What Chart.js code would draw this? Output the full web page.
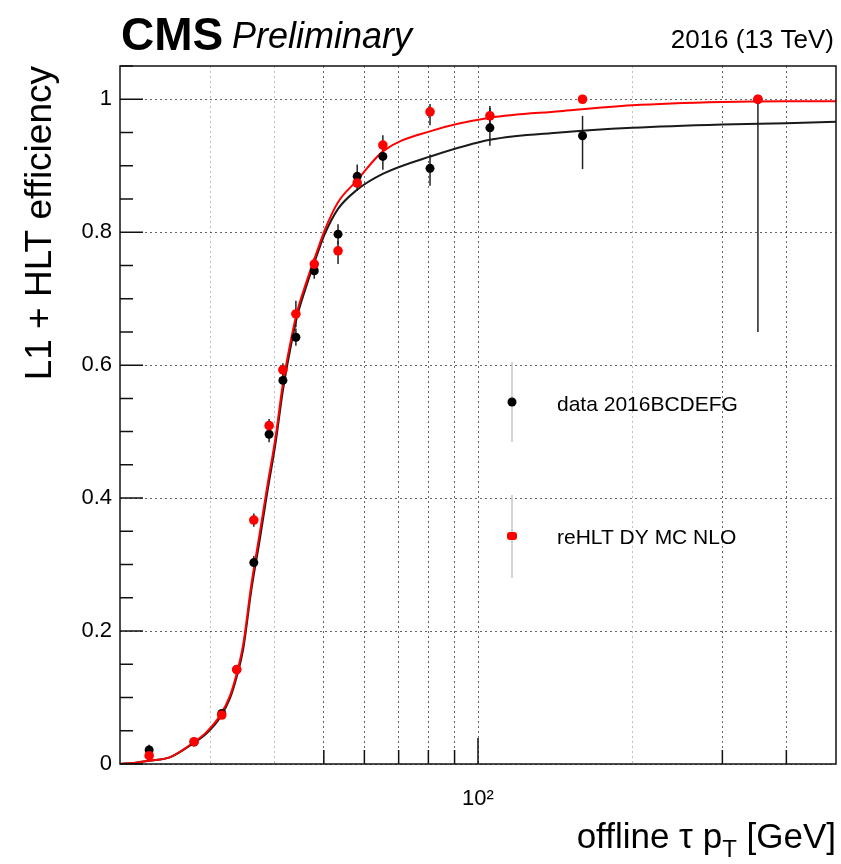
<!DOCTYPE html>
<html>
<head>
<meta charset="utf-8">
<script src="https://cdn.jsdelivr.net/npm/chart.js@4.4.0/dist/chart.umd.min.js"></script>
<style>
  html, body { margin: 0; padding: 0; background: #fff; }
</style>
</head>
<body>
<canvas id="effChart" width="841" height="864"></canvas>
<script>
// ---------- data ---------- //

// bin centres, offline tau pT [GeV]
var binCenters = [22.8, 27.9, 31.6, 33.8, 36.5, 39.1, 41.6, 44.1, 47.9, 53.3, 58.1, 65.2, 80.6, 105.5, 160, 352];

// data 2016BCDEFG
var dataEff     = [0.021, 0.033, 0.076, 0.142, 0.303, 0.496, 0.577, 0.642, 0.742, 0.797, 0.884, 0.914, 0.896, 0.957, 0.945, 1.0];
var dataErrUp   = [0.008, 0.004, 0.005, 0.006, 0.010, 0.012, 0.012, 0.013, 0.012, 0.015, 0.018, 0.018, 0.021, 0.030, 0.030, 0.0];
var dataErrDown = [0.008, 0.004, 0.005, 0.006, 0.010, 0.012, 0.012, 0.013, 0.012, 0.015, 0.018, 0.020, 0.026, 0.027, 0.050, 0.35];

// reHLT DY MC NLO
var mcEff     = [0.0125, 0.0335, 0.0737, 0.142, 0.367, 0.509, 0.593, 0.677, 0.752, 0.772, 0.874, 0.931, 0.981, 0.975, 1.0, 1.0];
var mcErrUp   = [0.006, 0.003, 0.004, 0.005, 0.010, 0.010, 0.010, 0.020, 0.010, 0.015, 0.012, 0.015, 0.012, 0.015, 0.0, 0.0];
var mcErrDown = [0.006, 0.003, 0.004, 0.005, 0.010, 0.010, 0.010, 0.020, 0.010, 0.020, 0.012, 0.012, 0.020, 0.015, 0.005, 0.0];

// fitted turn-on curves
var fitX      = [20, 21.5, 22.8, 25, 27.9, 29.5, 31.3, 32.8, 33.9, 34.8, 36.1, 37.5, 38.8, 40.2, 41.6, 42.9, 44.3, 46, 48.7, 50.2, 53.3, 57.9, 65.3, 80.8, 105.5, 144.6, 200, 300, 400, 500];
var mcFitY    = [0.0, 0.002, 0.005, 0.01, 0.033, 0.048, 0.072, 0.103, 0.14, 0.18, 0.27, 0.348, 0.419, 0.489, 0.572, 0.629, 0.679, 0.72, 0.775, 0.803, 0.845, 0.877, 0.922, 0.952, 0.972, 0.982, 0.991, 0.996, 0.997, 0.997];
var dataFitY  = [0.0, 0.002, 0.005, 0.01, 0.032, 0.046, 0.069, 0.099, 0.135, 0.173, 0.262, 0.338, 0.41, 0.48, 0.562, 0.62, 0.672, 0.714, 0.77, 0.797, 0.835, 0.863, 0.888, 0.914, 0.939, 0.95, 0.957, 0.962, 0.964, 0.966];

// axis ticks
var xTickValues = [30, 40, 50, 60, 70, 80, 90, 100, 200, 300, 400];
var xFaintTicks = [30, 40, 200];   // grid only, no tick mark
var xMajorTick = 100;

var FONT = '"Liberation Sans", Arial, Helvetica, sans-serif';

// ------------------ //
//  HELPER FUNCTIONS  //
// ------------------ //

// zip two arrays into {x, y} points, skipping nulls
function toPoints(xs, ys) {
  var pts = [];
  for (var i = 0; i < xs.length; i++) {
    if (ys[i] !== null) pts.push({ x: xs[i], y: ys[i] });
  }
  return pts;
}

function isMultiple(v, step) {
  var k = v / step;
  return Math.abs(k - Math.round(k)) < 1e-6;
}

// error bars, inner ticks, frame, header, legend and x title (ROOT style)
var rootStyle = {
  id: 'rootStyle',
  beforeDatasetsDraw: function (chart) {
    var ctx = chart.ctx, xs = chart.scales.x, ys = chart.scales.y;
    var sets = [
      { eff: dataEff, up: dataErrUp, dn: dataErrDown },
      { eff: mcEff, up: mcErrUp, dn: mcErrDown }
    ];
    ctx.save();
    ctx.strokeStyle = '#222';
    ctx.lineWidth = 1.5;
    sets.forEach(function (s) {
      for (var i = 0; i < binCenters.length; i++) {
        if (s.eff[i] === null) continue;
        var px = xs.getPixelForValue(binCenters[i]);
        ctx.beginPath();
        ctx.moveTo(px, ys.getPixelForValue(s.eff[i] + s.up[i]));
        ctx.lineTo(px, ys.getPixelForValue(s.eff[i] - s.dn[i]));
        ctx.stroke();
      }
    });
    ctx.restore();
  },
  afterDraw: function (chart) {
    var ctx = chart.ctx, a = chart.chartArea;
    var xs = chart.scales.x, ys = chart.scales.y;
    ctx.save();

    // frame
    ctx.strokeStyle = '#111';
    ctx.lineWidth = 1.5;
    ctx.strokeRect(a.left, a.top, a.right - a.left, a.bottom - a.top);

    // ticks pointing inwards
    ctx.beginPath();
    xTickValues.forEach(function (v) {
      if (xFaintTicks.indexOf(v) >= 0) return;
      var px = xs.getPixelForValue(v);
      var len = v === xMajorTick ? 26 : 14;
      ctx.moveTo(px, a.bottom);
      ctx.lineTo(px, a.bottom - len);
    });
    ys.ticks.forEach(function (t) {
      var py = ys.getPixelForValue(t.value);
      var len = isMultiple(t.value, 0.2) ? 23 : 13;
      ctx.moveTo(a.left, py);
      ctx.lineTo(a.left + len, py);
    });
    ctx.stroke();

    // header
    ctx.fillStyle = '#000';
    ctx.textBaseline = 'alphabetic';
    ctx.textAlign = 'left';
    ctx.font = 'bold 46px ' + FONT;
    ctx.fillText('CMS', 121, 50);
    ctx.font = 'italic 36px ' + FONT;
    ctx.fillText('Preliminary', 232, 48);
    ctx.textAlign = 'right';
    ctx.font = '26px ' + FONT;
    ctx.fillText('2016 (13 TeV)', 834, 48);

    // x axis title with subscript T, right aligned to the frame
    var big = '35px ' + FONT, small = '24px ' + FONT;
    var partA = 'offline \u03C4 p', partB = 'T', partC = ' [GeV]';
    ctx.font = big;
    var wA = ctx.measureText(partA).width, wC = ctx.measureText(partC).width;
    ctx.font = small;
    var wB = ctx.measureText(partB).width;
    var x0 = a.right - (wA + wB + wC);
    ctx.textAlign = 'left';
    ctx.font = big;
    ctx.fillText(partA, x0, 848);
    ctx.font = small;
    ctx.fillText(partB, x0 + wA, 857);
    ctx.font = big;
    ctx.fillText(partC, x0 + wA + wB, 848);

    // legend
    ctx.strokeStyle = '#c8c8c8';
    ctx.lineWidth = 1.5;
    ctx.beginPath();
    ctx.moveTo(512, 362); ctx.lineTo(512, 442);
    ctx.moveTo(512, 495); ctx.lineTo(512, 578);
    ctx.stroke();
    ctx.fillStyle = '#000';
    ctx.beginPath();
    ctx.arc(512, 402, 4.5, 0, Math.PI * 2);
    ctx.fill();
    ctx.fillStyle = '#ff0000';
    ctx.beginPath();
    ctx.roundRect(507, 532, 10, 8, 3);
    ctx.fill();
    ctx.fillStyle = '#000';
    ctx.textBaseline = 'middle';
    ctx.font = '21px ' + FONT;
    ctx.fillText('data 2016BCDEFG', 557, 405);
    ctx.fillText('reHLT DY MC NLO', 557, 538);

    ctx.restore();
  }
};

// ----------- //
//  THE CHART  //
// ----------- //

var gridDark = 'rgba(0, 0, 0, 0.6)';
var gridLight = 'rgba(0, 0, 0, 0.25)';

new Chart(document.getElementById('effChart'), {
  type: 'scatter',
  data: {
    datasets: [
      {
        label: 'reHLT DY MC NLO',
        data: toPoints(binCenters, mcEff),
        backgroundColor: '#ff0000',
        borderWidth: 0,
        pointRadius: 4.8
      },
      {
        label: 'data 2016BCDEFG',
        data: toPoints(binCenters, dataEff),
        backgroundColor: '#000',
        borderWidth: 0,
        pointRadius: 4.5
      },
      {
        label: 'MC fit',
        type: 'line',
        data: toPoints(fitX, mcFitY),
        borderColor: '#ff0000',
        borderWidth: 2,
        pointRadius: 0,
        cubicInterpolationMode: 'monotone',
        fill: false
      },
      {
        label: 'data fit',
        type: 'line',
        data: toPoints(fitX, dataFitY),
        borderColor: '#1a1a1a',
        borderWidth: 2,
        pointRadius: 0,
        cubicInterpolationMode: 'monotone',
        fill: false
      }
    ]
  },
  options: {
    responsive: false,
    animation: false,
    devicePixelRatio: 1,
    layout: { padding: { top: 66, right: 5, left: 0, bottom: 0 } },
    plugins: {
      legend: { display: false },
      tooltip: { enabled: false }
    },
    scales: {
      x: {
        type: 'logarithmic',
        min: 20,
        max: 500,
        afterBuildTicks: function (scale) {
          scale.ticks = xTickValues.map(function (v) { return { value: v }; });
        },
        afterFit: function (scale) { scale.height = 100; },
        border: { display: false, dash: [2, 3] },
        grid: {
          drawTicks: false,
          lineWidth: 1,
          color: function (c) {
            return xFaintTicks.indexOf(c.tick.value) >= 0 ? gridLight : gridDark;
          }
        },
        ticks: {
          autoSkip: false,
          maxRotation: 0,
          padding: 22,
          color: '#000',
          font: { family: FONT, size: 22 },
          callback: function (v) { return v === xMajorTick ? '10\u00B2' : ''; }
        }
      },
      y: {
        min: 0,
        max: 1.05,
        afterFit: function (scale) { scale.width = 120; },
        border: { display: false, dash: [2, 3] },
        grid: {
          drawTicks: false,
          lineWidth: 1,
          color: function (c) {
            return isMultiple(c.tick.value, 0.2) ? gridDark : 'rgba(0,0,0,0)';
          }
        },
        ticks: {
          stepSize: 0.05,
          maxTicksLimit: 100,
          autoSkip: false,
          padding: 8,
          color: '#000',
          font: { family: FONT, size: 22 },
          callback: function (v) {
            return isMultiple(v, 0.2) ? String(Math.round(v * 10) / 10) : '';
          }
        },
        title: {
          display: true,
          text: 'L1 + HLT efficiency',
          align: 'end',
          color: '#000',
          font: { family: FONT, size: 37 },
          padding: { top: 19, bottom: 0 }
        }
      }
    }
  },
  plugins: [rootStyle]
});
</script>
</body>
</html>
